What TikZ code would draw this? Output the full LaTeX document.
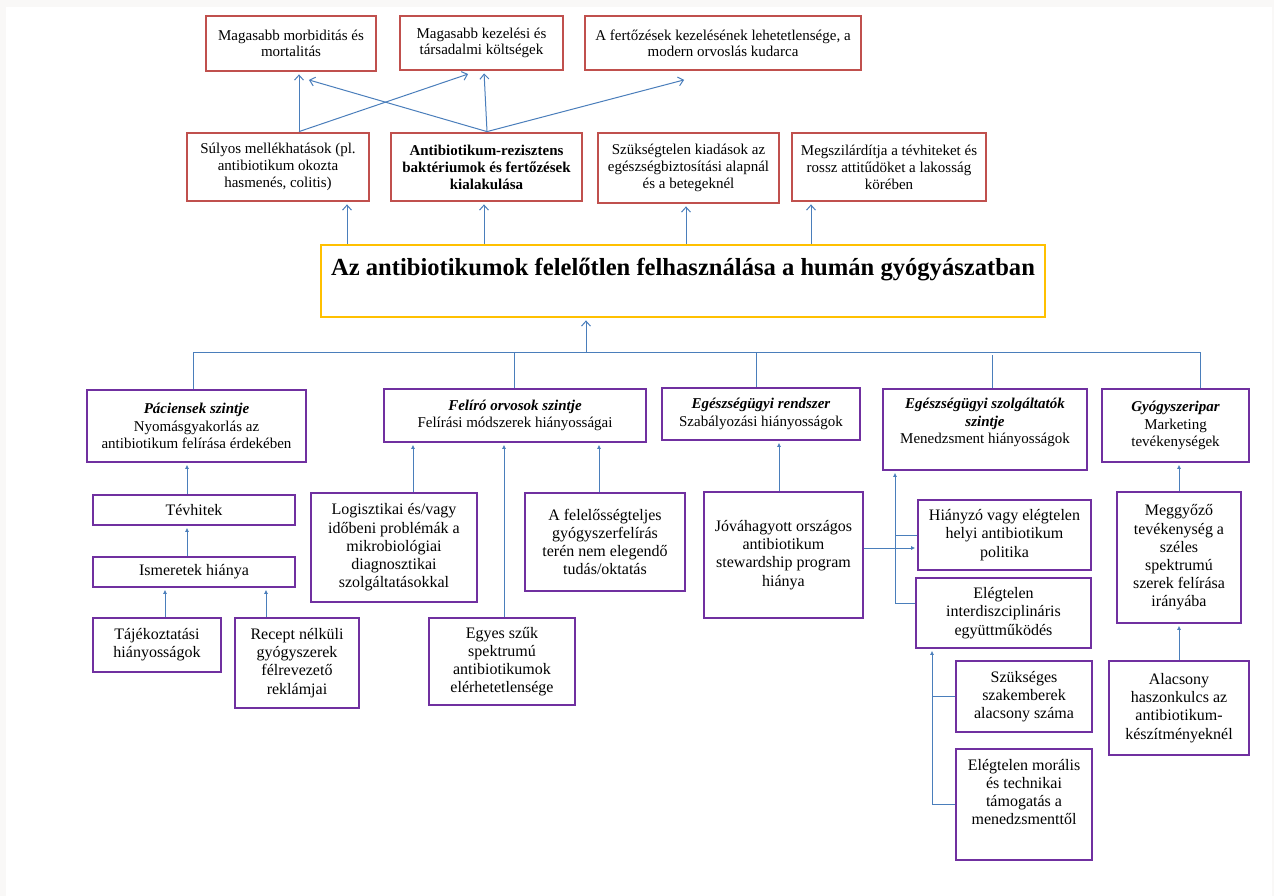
\documentclass[tikz,border=0pt]{standalone}
\usepackage{fontspec}
\setmainfont{Liberation Serif}
\usetikzlibrary{arrows.meta}
\definecolor{boxred}{RGB}{192,80,77}
\definecolor{boxpurple}{RGB}{112,48,160}
\definecolor{boxyellow}{RGB}{255,192,0}
\definecolor{linkblue}{RGB}{74,126,187}
\definecolor{pagegrey}{RGB}{249,248,247}
\begin{document}
\begin{tikzpicture}[x=1pt,y=-1pt,
        redbox/.style={draw=boxred,line width=2.8pt,fill=white,align=center,inner sep=0pt,font=\fontsize{15}{17}\selectfont},
        yellowbox/.style={draw=boxyellow,line width=2.8pt,fill=white,inner sep=0pt,font=\bfseries\fontsize{24.6}{27}\selectfont},
        purplebox/.style={draw=boxpurple,line width=2.8pt,fill=white,align=center,inner sep=0pt,font=\fontsize{16}{18.2}\selectfont},
        headbox/.style={purplebox,font=\fontsize{15}{17.5}\selectfont},
        uarr/.style={draw=linkblue,line width=1pt,shorten >=2pt,-{Straight Barb[length=5pt,width=9pt]}},
        barr/.style={draw=linkblue,line width=0.9pt,shorten >=1.4pt,-{Latex[length=4pt,width=4pt]}},
        link/.style={draw=linkblue,line width=0.9pt}]
    \fill[pagegrey] (0,0) rectangle (1274,896);
    \fill[white] (6,7) rectangle (1272,896);
    \useasboundingbox (0,0) rectangle (1274,896);

    \node[redbox,minimum width=170pt,minimum height=55pt,font=\fontsize{15}{16}\selectfont] (t1) at (291,43.5) {Magasabb morbiditás és\\mortalitás};
    \node[redbox,minimum width=163pt,minimum height=54pt,font=\fontsize{15}{16}\selectfont] (t2) at (481.5,43) {Magasabb kezelési és\\társadalmi költségek};
    \node[redbox,minimum width=276pt,minimum height=54pt,font=\fontsize{15}{16}\selectfont] (t3) at (723,43) {A fertőzések kezelésének lehetetlensége, a\\modern orvoslás kudarca};

    \node[redbox,minimum width=182pt,minimum height=68pt] (s1) at (278,167) {Súlyos mellékhatások (pl.\\antibiotikum okozta\\hasmenés, colitis)};
    \node[redbox,minimum width=191pt,minimum height=68pt] (s2) at (486.5,167) {\textbf{Antibiotikum-rezisztens}\\\textbf{baktériumok és fertőzések}\\\textbf{kialakulása}};
    \node[redbox,minimum width=181pt,minimum height=70pt] (s3) at (688.5,168) {Szükségtelen kiadások az\\egészségbiztosítási alapnál\\és a betegeknél};
    \node[redbox,minimum width=194pt,minimum height=68pt] (s4) at (889,167) {Megszilárdítja a tévhiteket és\\rossz attitűdöket a lakosság\\körében};

    \node[yellowbox,minimum width=724pt,minimum height=72pt,text depth=29pt] (yl) at (683,281) {Az antibiotikumok felelőtlen felhasználása a humán gyógyászatban};

    \node[headbox,minimum width=219pt,minimum height=72pt] (p1) at (196.5,426) {\textbf{\textit{Páciensek szintje}}\\Nyomásgyakorlás az\\antibiotikum felírása érdekében};
    \node[headbox,minimum width=262pt,minimum height=53pt] (p2) at (515,415.5) {\textbf{\textit{Felíró orvosok szintje}}\\Felírási módszerek hiányosságai};
    \node[headbox,minimum width=198pt,minimum height=52pt] (p3) at (761,414) {\textbf{\textit{Egészségügyi rendszer}}\\Szabályozási hiányosságok};
    \node[headbox,minimum width=204pt,minimum height=81pt] (p4) at (985,429.5) {\textbf{\textit{Egészségügyi szolgáltatók}}\\\textbf{\textit{szintje}}\\Menedzsment hiányosságok\\[-1pt]\mbox{}};
    \node[headbox,minimum width=147pt,minimum height=73pt] (p5) at (1175.5,425.5) {\textbf{\textit{Gyógyszeripar}}\\Marketing\\tevékenységek};

    \node[purplebox,minimum width=202pt,minimum height=30pt] (tev) at (194,510) {Tévhitek};
    \node[purplebox,minimum width=202pt,minimum height=30pt] (ism) at (194,572) {Ismeretek hiánya};
    \node[purplebox,minimum width=128pt,minimum height=54pt] (taj) at (157,645) {Tájékoztatási\\hiányosságok};
    \node[purplebox,minimum width=124pt,minimum height=90pt] (rec) at (297,663) {Recept nélküli\\gyógyszerek\\félrevezető\\reklámjai};

    \node[purplebox,minimum width=166pt,minimum height=109pt] (log) at (394,547.5) {Logisztikai és/vagy\\időbeni problémák a\\mikrobiológiai\\diagnosztikai\\szolgáltatásokkal};
    \node[purplebox,minimum width=146pt,minimum height=87pt] (egy) at (502,661.5) {Egyes szűk\\spektrumú\\antibiotikumok\\elérhetetlensége};
    \node[purplebox,minimum width=160pt,minimum height=98pt] (fel) at (605,542) {A felelősségteljes\\gyógyszerfelírás\\terén nem elegendő\\tudás/oktatás};

    \node[purplebox,minimum width=159pt,minimum height=126pt] (jov) at (783.5,555) {Jóváhagyott országos\\antibiotikum\\stewardship program\\hiánya};

    \node[purplebox,minimum width=173pt,minimum height=70pt] (hia) at (1004.5,535) {Hiányzó vagy elégtelen\\helyi antibiotikum\\politika};
    \node[purplebox,minimum width=175pt,minimum height=70pt] (int) at (1003.5,613) {Elégtelen\\interdiszciplináris\\együttműködés};
    \node[purplebox,minimum width=136pt,minimum height=71pt] (szu) at (1024,696.5) {Szükséges\\szakemberek\\alacsony száma};
    \node[purplebox,minimum width=136pt,minimum height=111pt] (mor) at (1024,804.5) {Elégtelen morális\\és technikai\\támogatás a\\menedzsmenttől\\[7pt]\mbox{}};

    \node[purplebox,minimum width=124pt,minimum height=131pt] (meg) at (1179,557.5) {Meggyőző\\tevékenység a\\széles\\spektrumú\\szerek felírása\\irányába};
    \node[purplebox,minimum width=140pt,minimum height=94pt] (ala) at (1179,708) {Alacsony\\haszonkulcs az\\antibiotikum-\\készítményeknél};

    \coordinate (c1) at (299,0);
    \coordinate (c2) at (487,0);
    \draw[uarr] (c1 |- s1.north) -- (c1 |- t1.south);
    \draw[uarr] (c1 |- s1.north) -- ([xshift=-11.5pt,yshift=-2pt]t2.south);
    \draw[uarr] (c2 |- s2.north) -- ([xshift=2.5pt]t2.south);
    \draw[uarr] (c2 |- s2.north) -- ([xshift=16pt,yshift=-7pt]t1.south);
    \draw[uarr] (c2 |- s2.north) -- ([xshift=-37pt,yshift=-8pt]t3.south);

    \coordinate (e1) at (347,0);
    \coordinate (e2) at (484,0);
    \coordinate (e3) at (686,0);
    \coordinate (e4) at (811,0);
    \draw[uarr] (e1 |- yl.north) -- (e1 |- s1.south);
    \draw[uarr] (e2 |- yl.north) -- (e2 |- s2.south);
    \draw[uarr] (e3 |- yl.north) -- (e3 |- s3.south);
    \draw[uarr] (e4 |- yl.north) -- (e4 |- s4.south);

    \coordinate (busl) at (193,352);
    \coordinate (busr) at (1200,352);
    \coordinate (busup) at (586,352);
    \coordinate (d2) at (514,352);
    \coordinate (d3) at (756,352);
    \coordinate (d4) at (992,355);
    \draw[link] (busl) -- (busr);
    \draw[uarr] (busup) -- (busup |- yl.south);
    \draw[link] (busl) -- (busl |- p1.north);
    \draw[link] (d2) -- (d2 |- p2.north);
    \draw[link] (d3) -- (d3 |- p3.north);
    \draw[link] (d4) -- (d4 |- p4.north);
    \draw[link] (busr) -- (busr |- p5.north);

    \coordinate (a1) at (187,0);
    \coordinate (a2) at (165,0);
    \coordinate (a3) at (266,0);
    \coordinate (a4) at (413,0);
    \coordinate (a5) at (504,0);
    \coordinate (a6) at (599,0);
    \coordinate (a7) at (779,0);
    \coordinate (a8) at (1179,0);
    \draw[barr] (a1 |- tev.north) -- (a1 |- p1.south);
    \draw[barr] (a1 |- ism.north) -- (a1 |- tev.south);
    \draw[barr] (a2 |- taj.north) -- (a2 |- ism.south);
    \draw[barr] (a3 |- rec.north) -- (a3 |- ism.south);
    \draw[barr] (a4 |- log.north) -- (a4 |- p2.south);
    \draw[barr] (a5 |- egy.north) -- (a5 |- p2.south);
    \draw[barr] (a6 |- fel.north) -- (a6 |- p2.south);
    \draw[barr] (a7 |- jov.north) -- (a7 |- p3.south);
    \draw[barr] (a8 |- meg.north) -- (a8 |- p5.south);
    \draw[barr] (a8 |- ala.north) -- (a8 |- meg.south);

    \coordinate (h1) at (0,548);
    \coordinate (v1) at (895,603);
    \coordinate (v2) at (932,0);
    \draw[barr] (jov.east |- h1) -- (hia.west |- h1);
    \draw[barr] (int.west |- v1) -- (v1) -- (v1 |- p4.south);
    \draw[link] (hia.west) -- (hia.west -| v1);
    \draw[barr] (mor.west) -- (mor.west -| v2) -- (v2 |- int.south);
    \draw[link] (szu.west) -- (szu.west -| v2);
\end{tikzpicture}
\end{document}
